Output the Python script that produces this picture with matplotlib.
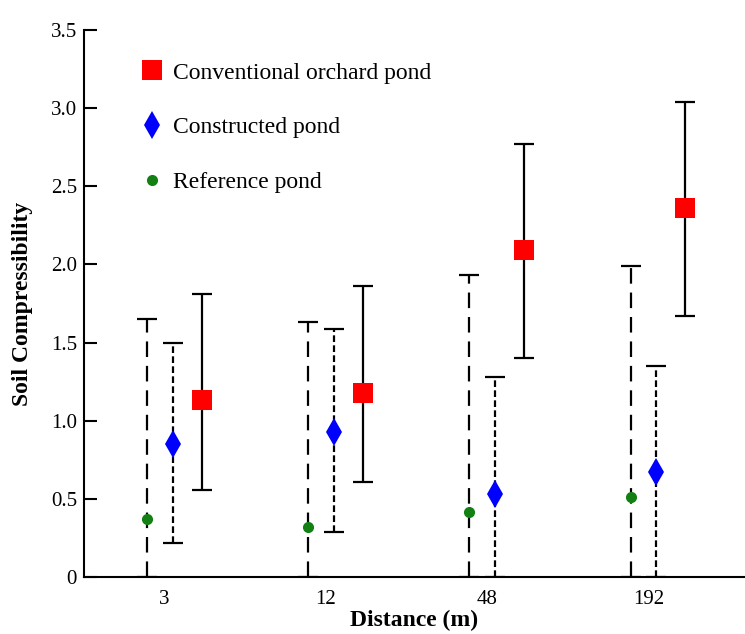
import numpy as np
import matplotlib.pyplot as plt

# ─── Data ─────────────────────────────────────────────────────────────────────
distances = ["3", "12", "48", "192"]

conv_mean = [1.13, 1.18, 2.09, 2.36]
conv_low  = [0.56, 0.61, 1.40, 1.67]
conv_high = [1.81, 1.86, 2.77, 3.04]

cons_mean = [0.85, 0.93, 0.53, 0.67]
cons_low  = [0.22, 0.29, 0.0, 0.0]
cons_high = [1.50, 1.59, 1.28, 1.35]

ref_mean = [0.37, 0.32, 0.415, 0.51]
ref_low  = [0.0, 0.0, 0.0, 0.0]
ref_high = [1.65, 1.63, 1.93, 1.99]

plt.rcParams['font.family'] = ['Liberation Serif', 'DejaVu Serif']

fig = plt.figure(figsize=(7.45, 6.34), dpi=100)
ax = fig.add_axes([0.1128, 0.0898, 0.8872, 0.8629])

x = np.arange(len(distances))
off = {"ref": -0.11, "cons": 0.05, "conv": 0.23}


def draw(xpos, mean, low, high, ls, marker, color, ms, label):
    mean = np.array(mean)
    yerr = [mean - np.array(low), np.array(high) - mean]
    _, caps, bars = ax.errorbar(xpos, mean, yerr=yerr, fmt='none', ecolor='black',
                                elinewidth=1.6, capsize=7, capthick=1.6, zorder=2)
    bars[0].set_linestyle(ls)
    h, = ax.plot(xpos, mean, linestyle='none', marker=marker, color=color,
                 markersize=ms, markeredgewidth=0, zorder=3, label=label)
    return h


h_conv = draw(x + off["conv"], conv_mean, conv_low, conv_high, '-', 's', '#ff0000', 14,
              "Conventional orchard pond")
h_cons = draw(x + off["cons"], cons_mean, cons_low, cons_high, (0, (3, 1.5)), 'd', '#0000ff', 14,
              "Constructed pond")
h_ref = draw(x + off["ref"], ref_mean, ref_low, ref_high, (0, (7, 4)), 'o', '#138013', 8,
             "Reference pond")

ax.set_xlim(-0.5, 3.6)
ax.set_ylim(0, 3.5)
ax.set_xticks(x)
ax.set_xticklabels(distances)
ax.set_yticks([0, 0.5, 1.0, 1.5, 2.0, 2.5, 3.0, 3.5])
ax.set_yticklabels(["0", "0.5", "1.0", "1.5", "2.0", "2.5", "3.0", "3.5"])
ax.tick_params(axis='x', length=0, labelsize=15, pad=9)
ax.tick_params(axis='y', direction='in', length=9.5, width=1.5, labelsize=15, pad=5)

for s in ['top', 'right']:
    ax.spines[s].set_visible(False)
ax.spines['left'].set_linewidth(1.5)
ax.spines['bottom'].set_linewidth(1.5)

ax.set_ylabel("Soil Compressibility", fontsize=17, fontweight='bold', labelpad=13)
ax.set_xlabel("Distance (m)", fontsize=17, fontweight='bold', labelpad=1)

ax.legend(handles=[h_conv, h_cons, h_ref], loc='upper left', bbox_to_anchor=(0.045, 0.98),
          frameon=False, fontsize=17, labelspacing=1.4, handletextpad=0.2, handlelength=1.4)

fig.savefig("out.png", dpi=100)
